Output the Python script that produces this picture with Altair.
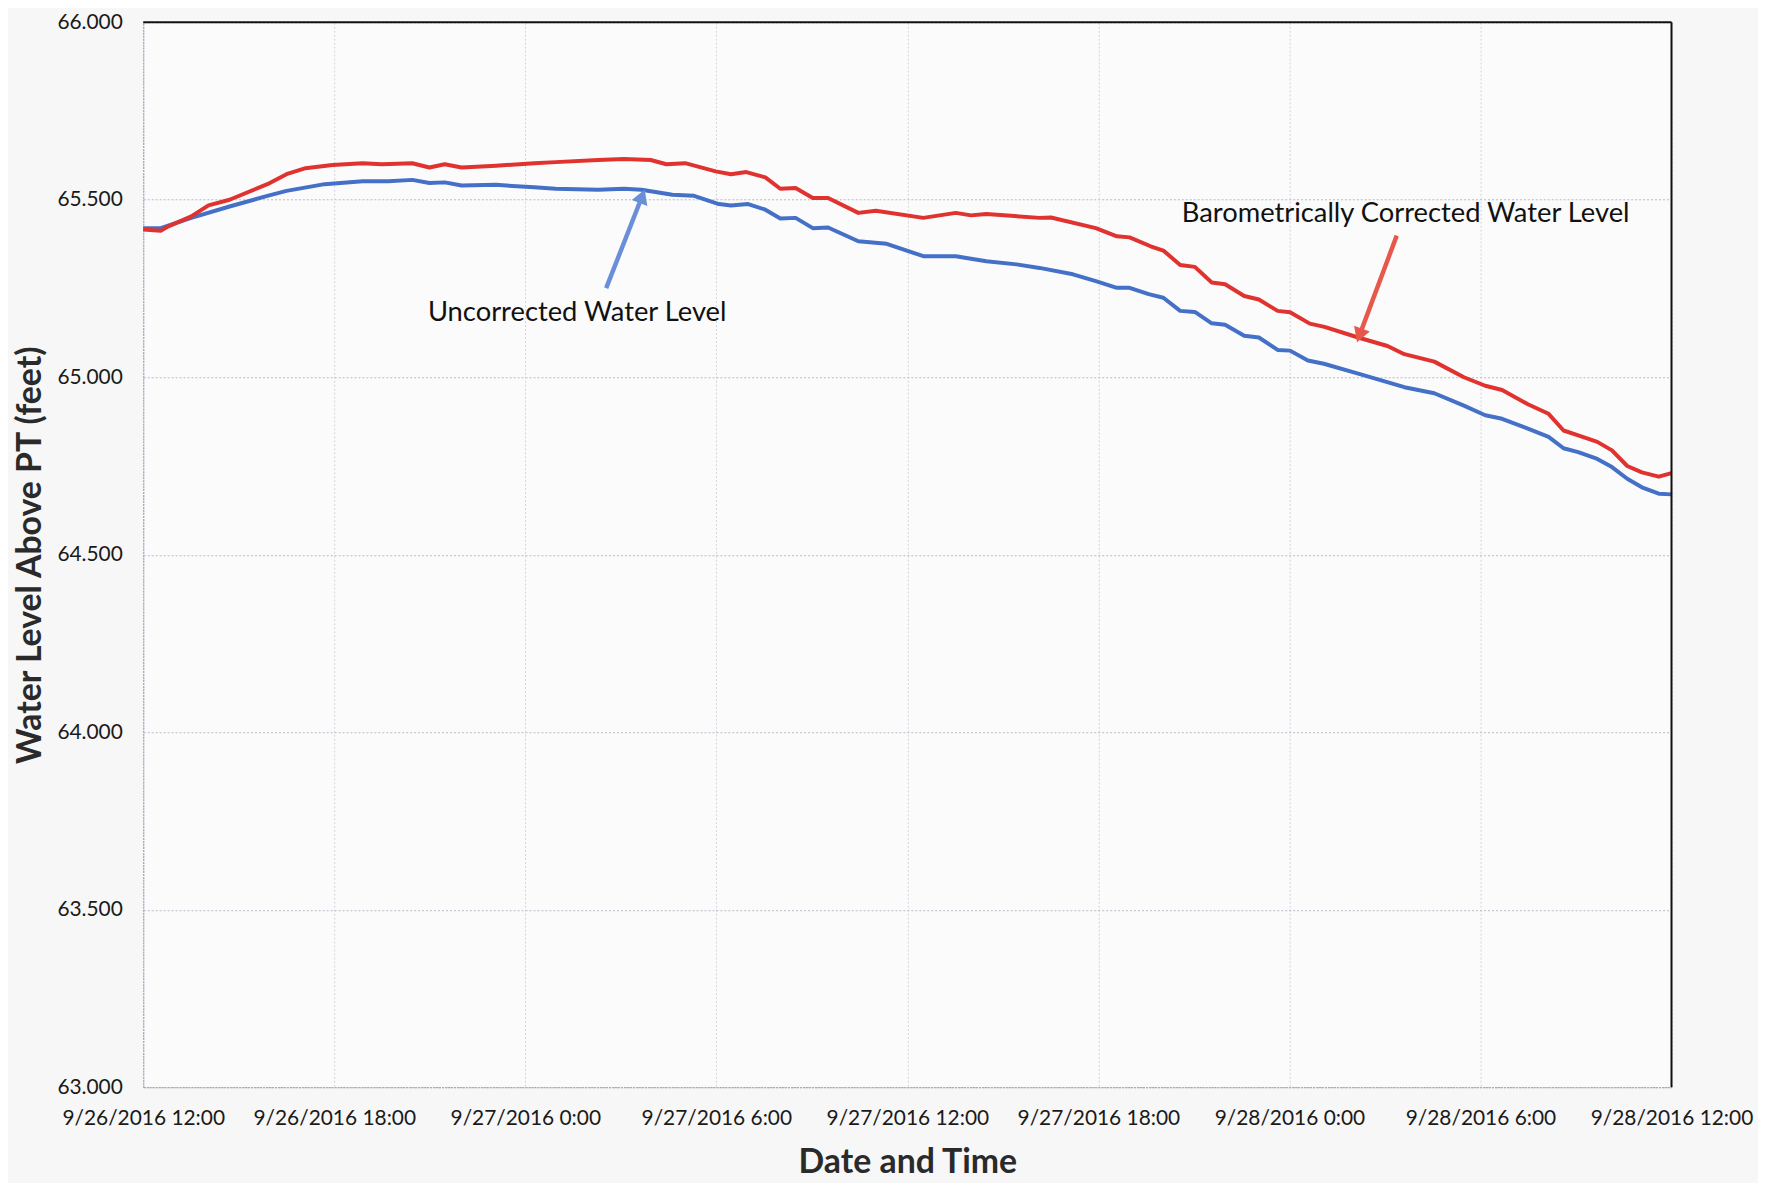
import altair as alt
import pandas as pd

START = "2016-09-26T12:00:00"

# Barometrically corrected water level (hours after start, feet)
red_hours = [0, 0.55, 0.79, 1.51, 2.05, 2.71, 3.90, 4.50, 5.10, 5.94, 6.89, 7.49, 8.45, 8.99,
             9.47, 10.0, 11.08, 12.28, 12.95, 14.29, 15.1, 15.94, 16.43, 17.02, 17.98, 18.46,
             18.94, 19.54, 20.01, 20.49, 21.03, 21.51, 22.46, 23.01, 24.50, 25.52, 26.0, 26.48,
             28.15, 28.51, 29.92, 30.58, 30.98, 31.64, 32.04, 32.57, 33.03, 33.56, 33.98, 34.58,
             35.04, 35.63, 36.02, 36.64, 37.10, 38.16, 39.08, 39.61, 40.55, 41.48, 42.15, 42.68,
             43.49, 44.14, 44.61, 45.07, 45.67, 46.13, 46.61, 47.07, 47.60, 48.0]
red_values = [65.416, 65.413, 65.425, 65.453, 65.484, 65.500, 65.544, 65.572, 65.589, 65.598,
              65.603, 65.600, 65.603, 65.591, 65.600, 65.591, 65.596, 65.603, 65.606, 65.612,
              65.615, 65.612, 65.600, 65.603, 65.580, 65.572, 65.578, 65.563, 65.531, 65.533,
              65.505, 65.505, 65.463, 65.469, 65.449, 65.463, 65.456, 65.460, 65.449, 65.450,
              65.420, 65.397, 65.394, 65.369, 65.357, 65.316, 65.311, 65.267, 65.262, 65.229,
              65.219, 65.187, 65.183, 65.151, 65.142, 65.112, 65.088, 65.065, 65.044, 65.000,
              64.976, 64.964, 64.924, 64.897, 64.850, 64.836, 64.818, 64.794, 64.750, 64.732,
              64.720, 64.730]

# Uncorrected water level
blue_hours = [0, 0.55, 1.51, 2.71, 3.90, 4.50, 5.70, 6.89, 7.70, 8.45, 8.99, 9.47, 10.0, 11.08,
              12.28, 12.95, 14.29, 15.1, 15.65, 16.62, 17.30, 18.08, 18.46, 19.0, 19.54, 20.01,
              20.49, 21.03, 21.51, 22.46, 23.35, 24.50, 25.52, 26.48, 27.43, 28.15, 29.20, 29.92,
              30.58, 30.98, 31.58, 32.04, 32.57, 33.03, 33.56, 33.98, 34.58, 35.04, 35.63, 36.02,
              36.58, 37.08, 38.16, 39.61, 40.55, 41.48, 42.15, 42.68, 43.49, 44.14, 44.61, 45.07,
              45.67, 46.13, 46.61, 47.07, 47.60, 48.0]
blue_values = [65.420, 65.420, 65.449, 65.481, 65.511, 65.525, 65.544, 65.552, 65.552, 65.556,
               65.547, 65.549, 65.540, 65.542, 65.535, 65.531, 65.528, 65.531, 65.528, 65.514,
               65.511, 65.488, 65.484, 65.488, 65.472, 65.447, 65.449, 65.420, 65.422, 65.383,
               65.376, 65.341, 65.341, 65.327, 65.318, 65.308, 65.290, 65.271, 65.252, 65.252,
               65.234, 65.224, 65.187, 65.184, 65.152, 65.148, 65.117, 65.112, 65.077, 65.075,
               65.047, 65.038, 65.010, 64.972, 64.955, 64.920, 64.893, 64.883, 64.855, 64.832,
               64.800, 64.789, 64.770, 64.747, 64.714, 64.690, 64.672, 64.670]

# Annotations (hours, value)
ann_labels = ["Uncorrected Water Level", "Barometrically Corrected Water Level"]
ann_text_hours = [13.63, 39.65]
ann_text_values = [65.181, 65.459]
arrow_tail_hours = [14.54, 39.37]
arrow_tail_values = [65.251, 65.399]
arrow_head_hours = [15.67, 38.20]
arrow_head_values = [65.510, 65.118]
arrow_angles = [21, 200]
arrow_colors = ["#6a8fd8", "#e8574c"]

FONT = "Lato"
start = pd.Timestamp(START)


def ts(h):
    return (start + pd.to_timedelta(h, unit="h")).strftime("%Y-%m-%dT%H:%M:%S")


red_df = pd.DataFrame({"t": [ts(h) for h in red_hours], "v": red_values})
blue_df = pd.DataFrame({"t": [ts(h) for h in blue_hours], "v": blue_values})

x_dom = [ts(0), ts(48)]
xscale = alt.Scale(domain=x_dom, nice=False)
yscale = alt.Scale(domain=[63, 66], nice=False, zero=False)

x_axis = alt.Axis(
    title="Date and Time",
    values=[ts(h) for h in range(0, 49, 6)],
    labelExpr="timeFormat(datum.value, '%-m/%-d/%Y %-H:%M')",
    grid=True, gridColor="#d3d3dc", gridDash=[2, 2], gridWidth=1,
    domainColor="#a9a9b8", domainDash=[2, 1], domainWidth=1.2,
    ticks=False, labelPadding=21, labelFontSize=21, labelColor="#1a1a1a",
    labelFont=FONT, labelFlush=False, labelOverlap=False,
    titleFont=FONT, titleFontSize=34, titleFontWeight="bold", titleColor="#2a2a2a",
    titlePadding=17,
)
y_axis = alt.Axis(
    title="Water Level Above PT (feet)",
    values=[63, 63.5, 64, 64.5, 65, 65.5, 66],
    format=".3f",
    grid=True, gridColor="#b9b9c9", gridDash=[2, 2], gridWidth=1,
    domainColor="#a9a0bc", domainDash=[2, 1], domainWidth=1.2,
    ticks=False, labelPadding=21, labelFontSize=21, labelColor="#1a1a1a",
    labelFont=FONT,
    titleFont=FONT, titleFontSize=34, titleFontWeight="bold", titleColor="#2a2a2a",
    titlePadding=9,
)

red_line = alt.Chart(red_df).mark_line(strokeWidth=4, strokeJoin="round", color="#e0322e").encode(
    x=alt.X("t:T", scale=xscale, axis=x_axis),
    y=alt.Y("v:Q", scale=yscale, axis=y_axis),
)
blue_line = alt.Chart(blue_df).mark_line(strokeWidth=4, strokeJoin="round", color="#4470c8").encode(
    x=alt.X("t:T"),
    y=alt.Y("v:Q"),
)

layers = [blue_line, red_line]

for i in range(len(ann_labels)):
    a_df = pd.DataFrame({
        "label": [ann_labels[i]],
        "tt": [ts(ann_text_hours[i])], "tv": [ann_text_values[i]],
        "at": [ts(arrow_tail_hours[i])], "av": [arrow_tail_values[i]],
        "ht": [ts(arrow_head_hours[i])], "hv": [arrow_head_values[i]],
    })
    layers.append(alt.Chart(a_df).mark_rule(strokeWidth=4.5, color=arrow_colors[i]).encode(
        x="at:T", y="av:Q", x2="ht:T", y2="hv:Q"))
    layers.append(alt.Chart(a_df).mark_point(shape="triangle-up", filled=True, size=280,
                                             opacity=1, color=arrow_colors[i],
                                             angle=arrow_angles[i]).encode(
        x="ht:T", y="hv:Q"))
    layers.append(alt.Chart(a_df).mark_text(font=FONT, fontSize=27.5, color="#111111",
                                            align="center", baseline="middle").encode(
        x="tt:T", y="tv:Q", text="label:N"))

frame_df = pd.DataFrame({"top": [66.0], "right": [ts(48)]})
layers.append(alt.Chart(frame_df).mark_rule(color="#111111", strokeWidth=2).encode(y="top:Q"))
layers.append(alt.Chart(frame_df).mark_rule(color="#111111", strokeWidth=2).encode(x="right:T"))

chart = alt.layer(*layers).properties(
    width=1537, height=1071, background="#f7f7f7",
    padding={"left": 6, "top": 0, "right": 5, "bottom": 0},
).configure_view(stroke=None, fill="#fbfbfb")

chart.save("out.html", embed_options={"renderer": "svg", "actions": False})
